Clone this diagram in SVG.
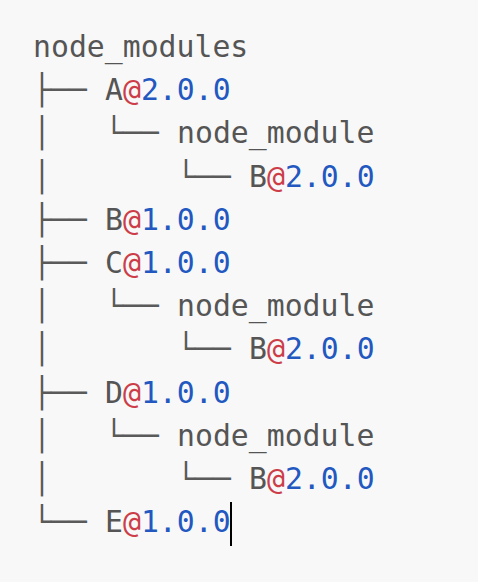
<svg xmlns="http://www.w3.org/2000/svg" width="478" height="582" viewBox="0 0 478 582">
<style>
text{font-family:"DejaVu Sans Mono","Liberation Mono",monospace;font-size:29.8px;fill:#555555}
.at{fill:#cc3d49}
.v{fill:#2358c0}
.tree{fill:#5a5a5a}
</style>
<rect width="478" height="582" fill="#f8f8f8"/>
<g id="connectors">
<text class="tree" x="33" y="100.2">├──</text>
<text class="tree" x="33" y="143.4">│</text><text class="tree" x="105" y="143.4">└──</text>
<text class="tree" x="33" y="186.6">│</text><text class="tree" x="177" y="186.6">└──</text>
<text class="tree" x="33" y="229.8">├──</text>
<text class="tree" x="33" y="273">├──</text>
<text class="tree" x="33" y="316.2">│</text><text class="tree" x="105" y="316.2">└──</text>
<text class="tree" x="33" y="359.4">│</text><text class="tree" x="177" y="359.4">└──</text>
<text class="tree" x="33" y="402.6">├──</text>
<text class="tree" x="33" y="445.8">│</text><text class="tree" x="105" y="445.8">└──</text>
<text class="tree" x="33" y="489">│</text><text class="tree" x="177" y="489">└──</text>
<text class="tree" x="33" y="532.2">└──</text>
</g>
<g id="root"><text x="33" y="57">node_modules</text></g>
<g id="a200"><text x="105" y="100.2">A<tspan class="at">@</tspan><tspan class="v">2.0.0</tspan></text></g>
<g id="a-node-module"><text x="177" y="143.4">node_module</text></g>
<g id="a-b200"><text x="249" y="186.6">B<tspan class="at">@</tspan><tspan class="v">2.0.0</tspan></text></g>
<g id="b100"><text x="105" y="229.8">B<tspan class="at">@</tspan><tspan class="v">1.0.0</tspan></text></g>
<g id="c100"><text x="105" y="273">C<tspan class="at">@</tspan><tspan class="v">1.0.0</tspan></text></g>
<g id="c-node-module"><text x="177" y="316.2">node_module</text></g>
<g id="c-b200"><text x="249" y="359.4">B<tspan class="at">@</tspan><tspan class="v">2.0.0</tspan></text></g>
<g id="d100"><text x="105" y="402.6">D<tspan class="at">@</tspan><tspan class="v">1.0.0</tspan></text></g>
<g id="d-node-module"><text x="177" y="445.8">node_module</text></g>
<g id="d-b200"><text x="249" y="489">B<tspan class="at">@</tspan><tspan class="v">2.0.0</tspan></text></g>
<g id="e100"><text x="105" y="532.2">E<tspan class="at">@</tspan><tspan class="v">1.0.0</tspan></text></g>
<line x1="231" y1="502" x2="231" y2="546" stroke="#000" stroke-width="2"/>
</svg>
